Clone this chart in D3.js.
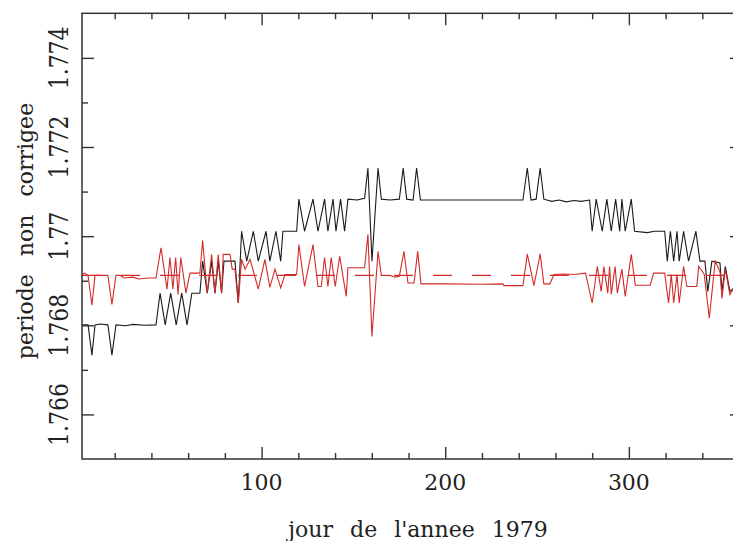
<!DOCTYPE html>
<html><head><meta charset="utf-8">
<script src="https://cdn.jsdelivr.net/npm/d3@7"></script>
<style>body{margin:0;background:#fff}svg{display:block}text{font-family:"DejaVu Serif",serif;fill:#222}</style>
</head><body>
<script>
// ---- data ----
const blackDays = [2.2,5.5,7.6,9.3,12,16.3,18.5,20.7,26,30,36,42.5,44.7,47.5,50.5,53.5,56.5,59.4,62,65.3,66.4,67.9,70.4,72.8,74.6,76.4,78.2,79.5,82.8,85.5,87.3,89.1,91.9,95.5,98.2,102.4,104.5,107.8,110.4,111.6,119.1,120.3,123.4,128.0,130.7,134.3,136.1,138.9,140.5,143.0,145.2,147.0,152,156.1,157.9,160.1,163.4,165.2,170,175,177.1,179.0,182.5,184.4,186.5,200,220,242.3,244.7,246.7,249.5,251.7,253.7,258,262,266,270,274,278.6,280.0,282.2,285.5,288.0,290.4,292.8,295.0,296.2,298.0,301.3,303.1,310,314,319.5,320.9,322.6,324.4,326.2,327.4,329.8,332.5,336.5,338.7,341.4,343.0,345.2,349.6,350.7,352.5,355.0,356.7,358.5,361.6];
const blackValues = [1.76801,1.76801,1.76733,1.76801,1.76803,1.76801,1.76733,1.76801,1.76799,1.76802,1.76800,1.76801,1.76872,1.76801,1.76872,1.76801,1.76872,1.76801,1.76872,1.76872,1.76872,1.76944,1.76872,1.76944,1.76872,1.76944,1.76872,1.76944,1.76944,1.76944,1.76850,1.77011,1.76944,1.77011,1.76944,1.77011,1.76944,1.77011,1.76944,1.77011,1.77011,1.77083,1.77011,1.77083,1.77011,1.77083,1.77011,1.77083,1.77011,1.77083,1.77011,1.77083,1.77081,1.77085,1.77153,1.76944,1.77153,1.77083,1.77081,1.77083,1.77153,1.77083,1.77081,1.77153,1.77081,1.77081,1.77081,1.77081,1.77153,1.77081,1.77083,1.77153,1.77083,1.77078,1.77081,1.77077,1.77080,1.77078,1.77081,1.77011,1.77083,1.77011,1.77083,1.77011,1.77083,1.77011,1.77083,1.77011,1.77083,1.77011,1.77008,1.77011,1.77011,1.76944,1.77011,1.76944,1.77011,1.76944,1.77011,1.76944,1.77011,1.76944,1.76944,1.76876,1.76944,1.76940,1.76876,1.76932,1.76876,1.76882,1.76880,1.76880];

const redDays = [2.2,3.5,5.5,7.6,9.3,16.3,18.5,20.7,23,25,30,33,38,42.5,45.2,48.5,50.1,51.7,53.2,54.5,56.0,58.8,61.0,66.4,67.9,70.4,72.8,74.6,76.4,78.2,79.1,82.8,84,85.5,87.3,89.1,91,93.7,98.2,101.8,104.5,107.3,110.4,112.7,119.1,120.3,123.4,128.0,130.7,132.5,134.3,136.1,137.9,140.1,142.5,146.1,147.0,156.1,157.9,160.1,163.4,165.2,170,172.5,175,177.5,179.7,183,185.0,186.8,200,220,231.3,232,242.3,244.7,248.3,251.7,253.7,257.0,259.2,265,270,276.4,280.0,282.8,284.9,286.4,288.5,289.5,290.4,292.5,293.7,296.2,298.0,301.3,303.5,311.6,313.5,319.5,321.6,323.1,324.4,326.2,327.4,329.8,331.6,337.0,338.0,341,343.8,347.0,349.6,350.7,352.5,355.0,356.7,358.5,361.6];
const redValues = [1.76912,1.76917,1.76912,1.76845,1.76912,1.76912,1.76847,1.76912,1.76912,1.76906,1.76908,1.76904,1.76906,1.76906,1.76974,1.76881,1.76952,1.76881,1.76952,1.76869,1.76952,1.76872,1.76917,1.76917,1.76990,1.76872,1.76959,1.76872,1.76959,1.76872,1.76959,1.76959,1.76926,1.76926,1.76850,1.76948,1.76926,1.76948,1.76881,1.76948,1.76885,1.76926,1.76884,1.76914,1.76914,1.76981,1.76887,1.76981,1.76887,1.76887,1.76952,1.76887,1.76952,1.76887,1.76955,1.76865,1.76929,1.76929,1.77004,1.76775,1.76966,1.76912,1.76912,1.76908,1.76910,1.76966,1.76895,1.76895,1.76966,1.76893,1.76893,1.76892,1.76893,1.76889,1.76889,1.76960,1.76889,1.76960,1.76893,1.76893,1.76914,1.76915,1.76914,1.76917,1.76850,1.76932,1.76876,1.76932,1.76872,1.76932,1.76869,1.76932,1.76872,1.76926,1.76865,1.76959,1.76890,1.76890,1.76917,1.76917,1.76850,1.76914,1.76850,1.76914,1.76850,1.76932,1.76887,1.76887,1.76932,1.76915,1.76816,1.76944,1.76920,1.76860,1.76926,1.76869,1.76880,1.76875,1.76878];

const meanValue = 1.76912;
const xDomain = [2.2, 361.6];
const yDomain = [1.765, 1.775];
const xMajorTicks = [100, 200, 300];
const xMinorTicks = [20,40,60,80,120,140,160,180,220,240,260,280,320,340,360];
const yMajorTicks = [1.766, 1.768, 1.770, 1.772, 1.774];
const yMajorLabels = ["1.766", "1.768", "1.77", "1.772", "1.774"];
const yMinorTicks = [1.767, 1.769, 1.771, 1.773];
const xTitle = "jour de l'annee 1979";
const yTitle = "periode non corrigee";

// ---- layout ----
const W = 733, H = 541;
const L = 82, R = 742, T = 13.3, B = 459;
const svg = d3.select("body").append("svg").attr("width", W).attr("height", H);
const x = d3.scaleLinear().domain(xDomain).range([L, R]);
const y = d3.scaleLinear().domain(yDomain).range([B, T]);

svg.append("defs").append("clipPath").attr("id","clip")
  .append("rect").attr("x",L).attr("y",T).attr("width",R-L).attr("height",B-T);

const plot = svg.append("g").attr("clip-path","url(#clip)");
const line = d3.line().x(d=>x(d[0])).y(d=>y(d[1]));
const black = blackDays.map((d,i)=>[d, blackValues[i]]);
const red = redDays.map((d,i)=>[d, redValues[i]]);

plot.append("path").datum(black).attr("d", line)
  .attr("fill","none").attr("stroke","#1a1a1a").attr("stroke-width",1.1);
plot.append("line").attr("x1",x(xDomain[0])).attr("x2",x(xDomain[1]))
  .attr("y1",y(meanValue)).attr("y2",y(meanValue))
  .attr("stroke","#d42a2a").attr("stroke-width",1.1).attr("stroke-dasharray","19,20");
plot.append("path").datum(red).attr("d", line)
  .attr("fill","none").attr("stroke","#d42a2a").attr("stroke-width",1.1);

// ---- axes (ticks on all four sides) ----
const stroke = "#333";
const tickMaj = 12, tickMin = 6;
const ax = svg.append("g").attr("stroke", stroke).attr("stroke-width", 1.4);
function xTicks(vals, len){
  ax.append("g").attr("transform",`translate(0,${B})`)
    .call(d3.axisBottom(x).tickValues(vals).tickSize(-len).tickFormat("")).call(g=>g.select(".domain").remove());
  ax.append("g").attr("transform",`translate(0,${T})`)
    .call(d3.axisTop(x).tickValues(vals).tickSize(-len).tickFormat("")).call(g=>g.select(".domain").remove());
}
function yTicks(vals, len){
  ax.append("g").attr("transform",`translate(${L},0)`)
    .call(d3.axisLeft(y).tickValues(vals).tickSize(-len).tickFormat("")).call(g=>g.select(".domain").remove());
  ax.append("g").attr("transform",`translate(${R},0)`)
    .call(d3.axisRight(y).tickValues(vals).tickSize(-len).tickFormat("")).call(g=>g.select(".domain").remove());
}
xTicks(xMajorTicks, tickMaj); xTicks(xMinorTicks, tickMin);
yTicks(yMajorTicks, tickMaj); yTicks(yMinorTicks, tickMin);
ax.selectAll(".tick line").attr("stroke", stroke).attr("stroke-width",1.4);
svg.append("rect").attr("x",L).attr("y",T).attr("width",R-L).attr("height",B-T)
  .attr("fill","none").attr("stroke",stroke).attr("stroke-width",1.5);

// tick labels
svg.append("g").selectAll("text").data(xMajorTicks).join("text")
  .attr("x", d=>x(d)).attr("y", 490).attr("text-anchor","middle")
  .attr("font-size", 22).text(d=>d);
svg.append("g").selectAll("text").data(yMajorTicks).join("text")
  .attr("transform", d=>`translate(68,${y(d)}) rotate(-90) scale(1,1.15)`)
  .attr("text-anchor","middle").attr("font-size", 22)
  .text((d,i)=>yMajorLabels[i]);

// titles
svg.append("text").attr("x", 418).attr("y", 537).attr("text-anchor","middle")
  .attr("font-size", 22).attr("word-spacing", 10).text(xTitle);
svg.append("text").attr("transform", `translate(33,231) rotate(-90)`)
  .attr("text-anchor","middle").attr("font-size", 22).attr("word-spacing", 11).text(yTitle);
</script>
</body></html>
